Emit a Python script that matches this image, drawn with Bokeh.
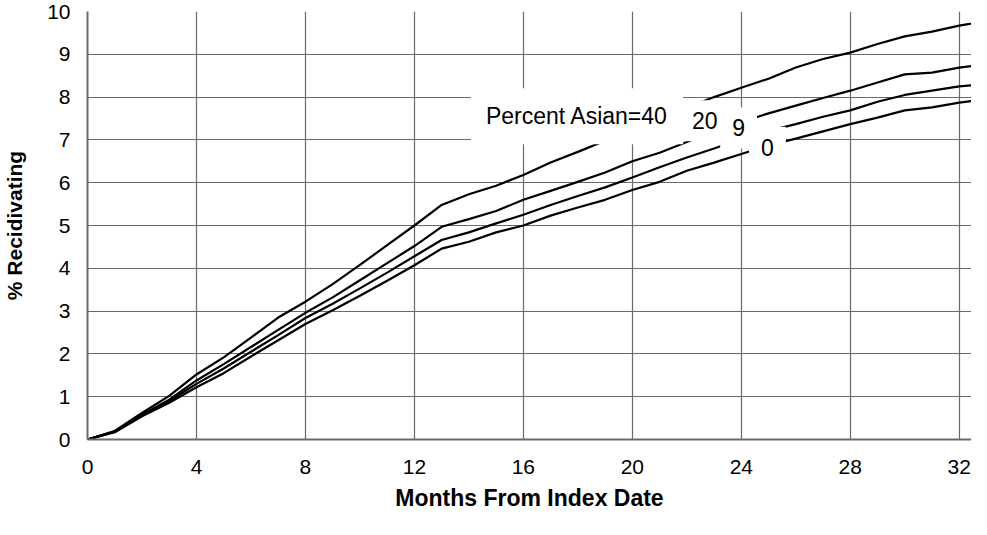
from bokeh.plotting import figure
from bokeh.models import Range1d, Label, FixedTicker
from bokeh.embed import file_html
from bokeh.resources import INLINE

months = list(range(0, 34))
pa40 = [0, 0.2, 0.62, 1.02, 1.52, 1.92, 2.38, 2.85, 3.22, 3.63, 4.08, 4.54, 5.0, 5.48,
        5.73, 5.93, 6.18, 6.47, 6.72, 6.98, 7.25, 7.5, 7.75, 8.0, 8.22, 8.43, 8.69,
        8.89, 9.04, 9.24, 9.42, 9.53, 9.67, 9.78]
pa20 = [0, 0.19, 0.58, 0.93, 1.38, 1.76, 2.16, 2.56, 2.96, 3.32, 3.72, 4.12, 4.52, 4.97,
        5.15, 5.34, 5.6, 5.81, 6.02, 6.24, 6.5, 6.7, 6.95, 7.2, 7.42, 7.62, 7.8,
        7.98, 8.15, 8.34, 8.53, 8.57, 8.69, 8.77]
pa9 = [0, 0.18, 0.56, 0.9, 1.3, 1.66, 2.05, 2.44, 2.84, 3.17, 3.53, 3.9, 4.28, 4.66,
       4.84, 5.05, 5.25, 5.48, 5.69, 5.89, 6.12, 6.36, 6.59, 6.8, 7.02, 7.21, 7.37,
       7.54, 7.69, 7.89, 8.05, 8.15, 8.25, 8.3]
pa0 = [0, 0.17, 0.54, 0.86, 1.22, 1.55, 1.94, 2.32, 2.7, 3.02, 3.36, 3.71, 4.07, 4.46,
       4.62, 4.84, 5.0, 5.23, 5.42, 5.6, 5.83, 6.02, 6.28, 6.47, 6.67, 6.87, 7.03,
       7.2, 7.37, 7.52, 7.69, 7.76, 7.87, 7.95]
series = [pa40, pa20, pa9, pa0]
x_ticks = [0, 4, 8, 12, 16, 20, 24, 28, 32]
y_ticks = list(range(0, 11))
label_texts = ["Percent Asian=40", "20", "9", "0"]
x_title = "Months From Index Date"
y_title = "% Recidivating"

FONT = "Liberation Sans"
GRID = "#6a6a6a"

p = figure(width=971, height=519, output_backend="svg", toolbar_location=None,
           x_range=Range1d(0, 32.45), y_range=Range1d(0, 10),
           min_border_left=82, min_border_right=0, min_border_top=11, min_border_bottom=80)
p.outline_line_color = None
p.background_fill_color = "white"

for s in series:
    p.line(months, s, line_color="black", line_width=2.2)

p.xaxis.ticker = FixedTicker(ticks=x_ticks)
p.yaxis.ticker = FixedTicker(ticks=y_ticks)
p.xgrid.ticker = FixedTicker(ticks=x_ticks)
p.ygrid.ticker = FixedTicker(ticks=y_ticks)
for g in (p.xgrid, p.ygrid):
    g.grid_line_color = GRID
    g.grid_line_width = 1.2

for ax in (p.xaxis, p.yaxis):
    ax.axis_line_color = GRID
    ax.axis_line_width = 2
    ax.major_tick_in = 0
    ax.major_tick_out = 0
    ax.minor_tick_in = 0
    ax.minor_tick_out = 0
    ax.major_label_text_font = FONT
    ax.major_label_text_font_size = "21px"
    ax.major_label_text_color = "black"
    ax.axis_label_text_font = FONT
    ax.axis_label_text_font_style = "bold"
    ax.axis_label_text_color = "black"

p.xaxis.axis_label = x_title
p.yaxis.axis_label = y_title
p.xaxis.axis_label_text_font_size = "23px"
p.yaxis.axis_label_text_font_size = "21px"
p.xaxis.major_label_standoff = 20
p.yaxis.major_label_standoff = 17
p.xaxis.axis_label_standoff = 8
p.yaxis.axis_label_standoff = 18

label_pos = [(17.97, 7.55, 15), (22.66, 7.45, 12), (23.9, 7.28, 12), (24.96, 6.83, 12)]
for t, (lx, ly, pad) in zip(label_texts, label_pos):
    p.add_layout(Label(x=lx, y=ly, text=t, text_align="center", text_baseline="middle",
                       text_font=FONT, text_font_size="23px", text_color="black",
                       background_fill_color="white", padding=pad))

open("out.html", "w").write(file_html(p, INLINE))
